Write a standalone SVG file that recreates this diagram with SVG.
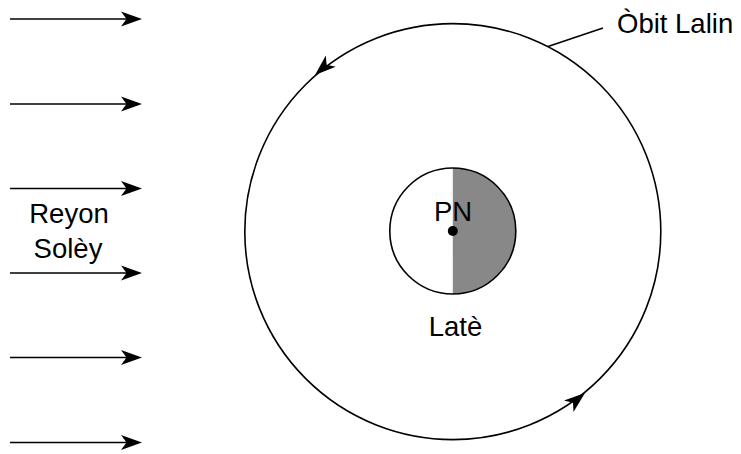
<svg xmlns="http://www.w3.org/2000/svg" width="741" height="454" viewBox="0 0 741 454">
<style>
.ln{stroke:#000;stroke-width:1.6;fill:none}
.t{font-family:"Liberation Sans",Arial,sans-serif;font-size:27.5px;fill:#000}
</style>
<defs>
<path id="ah" d="M0,0 L-21,-7.5 L-15.5,0 L-21,7.5 Z" fill="#000"/>
</defs>
<rect width="741" height="454" fill="#fff"/>
<g id="rays">
<line class="ln" x1="10" y1="19" x2="130" y2="19"/><use href="#ah" transform="translate(142,19)"/>
<line class="ln" x1="10" y1="104" x2="130" y2="104"/><use href="#ah" transform="translate(142,104)"/>
<line class="ln" x1="10" y1="188.5" x2="130" y2="188.5"/><use href="#ah" transform="translate(142,188.5)"/>
<line class="ln" x1="10" y1="273" x2="130" y2="273"/><use href="#ah" transform="translate(142,273)"/>
<line class="ln" x1="10" y1="357.5" x2="130" y2="357.5"/><use href="#ah" transform="translate(142,357.5)"/>
<line class="ln" x1="10" y1="442.5" x2="130" y2="442.5"/><use href="#ah" transform="translate(142,442.5)"/>
<text class="t" x="69" y="223" text-anchor="middle">Reyon</text>
<text class="t" x="68" y="258" text-anchor="middle">Solèy</text>
</g>
<g id="orbit">
<circle class="ln" cx="452.8" cy="231.6" r="208"/>
<use href="#ah" transform="translate(315,75) rotate(138.6)"/>
<use href="#ah" transform="translate(585,393) rotate(-39.3)"/>
</g>
<g id="orbit-label">
<line class="ln" x1="548" y1="46.5" x2="603" y2="28"/>
<text class="t" x="617" y="33">Òbit Lalin</text>
</g>
<g id="earth">
<circle cx="452.8" cy="231" r="63" fill="#fff"/>
<path d="M452.8,168 A63,63 0 0 1 452.8,294 Z" fill="#888"/>
<circle class="ln" cx="452.8" cy="231" r="63"/>
<circle cx="452.8" cy="231" r="5" fill="#000"/>
<text class="t" x="453" y="221" text-anchor="middle">PN</text>
</g>
<g id="earth-label">
<text class="t" x="455.5" y="336" text-anchor="middle">Latè</text>
</g>
</svg>
